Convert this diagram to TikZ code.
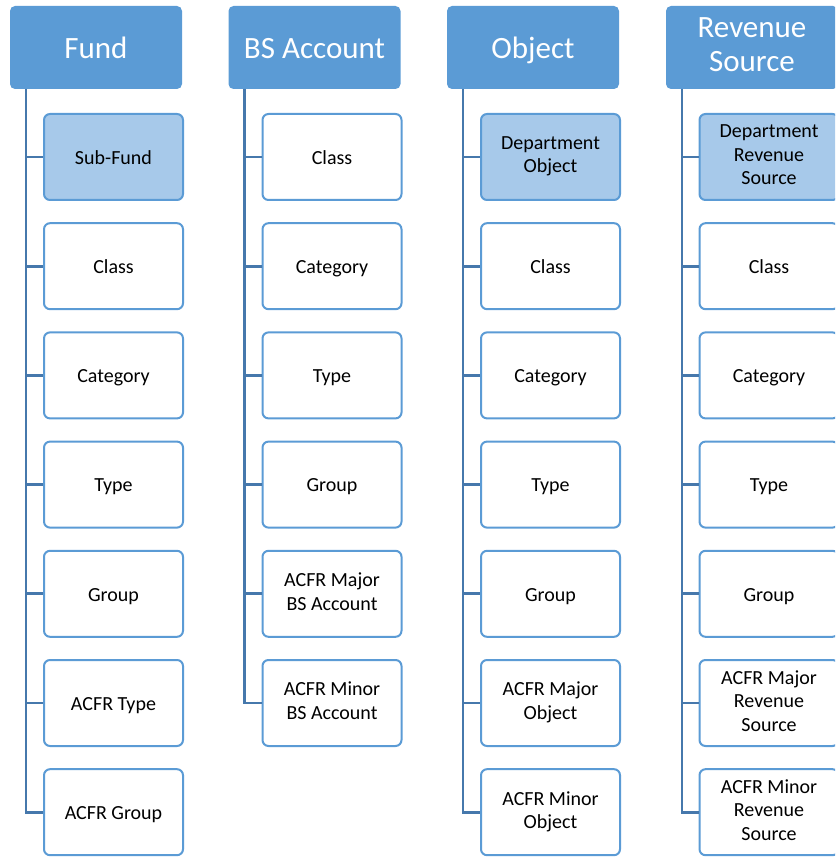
\documentclass[tikz,border=0pt]{standalone}
\usepackage{fontspec}
\setmainfont{Carlito}
\definecolor{hblue}{RGB}{91,155,213}
\definecolor{lblue}{RGB}{167,201,234}
\definecolor{tblue}{RGB}{70,120,172}
\newcommand\mystrut{\rule[-0.19\baselineskip]{0pt}{\baselineskip}}
\begin{document}
\begin{tikzpicture}[x=1pt,y=-1pt,
  hdr/.style={rectangle, rounded corners=5pt, fill=hblue, draw=none, minimum width=172pt, minimum height=83pt, text=white, font=\fontsize{31}{34}\selectfont, align=center, inner sep=0pt, execute at begin node={\mystrut}, execute at end node={\mystrut}},
  kid/.style={rectangle, rounded corners=6pt, draw=hblue, line width=2pt, fill=white, minimum width=139pt, minimum height=86pt, font=\fontsize{20}{23.5}\selectfont, align=center, inner sep=0pt, execute at begin node={\mystrut}, execute at end node={\mystrut}},
  kidsel/.style={kid, fill=lblue},
  tree/.style={draw=tblue, line width=2.7pt}]
\useasboundingbox (0,0) rectangle (835,858);
\clip (0,0) rectangle (835,858);

% ---------- column 1: Fund ----------
\coordinate (t1) at (26,89);
\node[hdr] (h1) at (96,47.5) {Fund};
\node[kidsel] (a1) at (113.5,157) {Sub-Fund};
\node[kid] (a2) at (113.5,266.2) {Class};
\node[kid] (a3) at (113.5,375.4) {Category};
\node[kid] (a4) at (113.5,484.6) {Type};
\node[kid] (a5) at (113.5,593.8) {Group};
\node[kid] (a6) at (113.5,703) {ACFR Type};
\node[kid] (a7) at (113.5,812.2) {ACFR Group};
\draw[tree] (t1) |- (a7.west);
\foreach \n in {a1,a2,a3,a4,a5,a6} \draw[tree] (\n.west -| t1) -- (\n.west);

% ---------- column 2: BS Account ----------
\coordinate (t2) at (244.5,89);
\node[hdr] (h2) at (314.5,47.5) {BS Account};
\node[kid] (b1) at (332,157) {Class};
\node[kid] (b2) at (332,266.2) {Category};
\node[kid] (b3) at (332,375.4) {Type};
\node[kid] (b4) at (332,484.6) {Group};
\node[kid] (b5) at (332,593.8) {ACFR Major\\BS Account};
\node[kid] (b6) at (332,703) {ACFR Minor\\BS Account};
\draw[tree] (t2) |- (b6.west);
\foreach \n in {b1,b2,b3,b4,b5} \draw[tree] (\n.west -| t2) -- (\n.west);

% ---------- column 3: Object ----------
\coordinate (t3) at (463,89);
\node[hdr] (h3) at (533,47.5) {Object};
\node[kidsel] (c1) at (550.5,157) {Department\\Object};
\node[kid] (c2) at (550.5,266.2) {Class};
\node[kid] (c3) at (550.5,375.4) {Category};
\node[kid] (c4) at (550.5,484.6) {Type};
\node[kid] (c5) at (550.5,593.8) {Group};
\node[kid] (c6) at (550.5,703) {ACFR Major\\Object};
\node[kid] (c7) at (550.5,812.2) {ACFR Minor\\Object};
\draw[tree] (t3) |- (c7.west);
\foreach \n in {c1,c2,c3,c4,c5,c6} \draw[tree] (\n.west -| t3) -- (\n.west);

% ---------- column 4: Revenue Source ----------
\coordinate (t4) at (682,89);
\node[hdr] (h4) at (752,47.5) {Revenue\\Source};
\node[kidsel] (d1) at (769,157) {Department\\Revenue\\Source};
\node[kid] (d2) at (769,266.2) {Class};
\node[kid] (d3) at (769,375.4) {Category};
\node[kid] (d4) at (769,484.6) {Type};
\node[kid] (d5) at (769,593.8) {Group};
\node[kid] (d6) at (769,703) {ACFR Major\\Revenue\\Source};
\node[kid] (d7) at (769,812.2) {ACFR Minor\\Revenue\\Source};
\draw[tree] (t4) |- (d7.west);
\foreach \n in {d1,d2,d3,d4,d5,d6} \draw[tree] (\n.west -| t4) -- (\n.west);
\end{tikzpicture}
\end{document}
